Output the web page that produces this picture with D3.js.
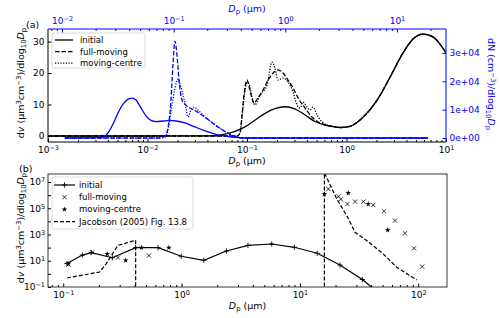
<!DOCTYPE html>
<html>
<head>
<meta charset="utf-8">
<title>Size distributions</title>
<script src="https://d3js.org/d3.v7.min.js"></script>
<style>
  body { margin: 0; background: #fff; }
  svg { font-family: "DejaVu Sans", sans-serif; }
</style>
</head>
<body>
<script>
// ---- panel (a): volume distributions (bottom axis, left axis) ----
var vInitD = [0.001, 0.0034, 0.0106, 0.0337, 0.0477, 0.0601, 0.0757, 0.0955, 0.120, 0.152, 0.191, 0.241, 0.303, 0.383, 0.482, 0.608, 0.766, 0.861, 1.08, 1.47, 2.03, 2.74, 3.70, 4.66, 5.87, 7.40, 9.11, 10];
var vInitV = [0, 0, 0, 0.05, 0.15, 0.6, 1.5, 2.9, 5.0, 7.2, 8.7, 9.3, 8.6, 6.7, 4.6, 3.5, 2.9, 2.7, 3.1, 6.0, 11.4, 18.7, 26.4, 30.8, 32.4, 31.5, 28.3, 26.4];

var vFullD = [0.001, 0.08, 0.0851, 0.0891, 0.0933, 0.100, 0.105, 0.112, 0.117, 0.129, 0.145, 0.163, 0.183, 0.205, 0.230, 0.258, 0.290, 0.326, 0.383, 0.450, 0.517, 0.608, 0.683, 0.766, 0.861, 1.08, 1.47, 2.03, 2.74, 3.70, 4.66, 5.87, 7.40, 9.11, 10];
var vFullV = [0, 0, 1.0, 6.7, 13.0, 17.8, 15.6, 12.1, 10.5, 12.1, 14.6, 17.8, 20.0, 21.0, 20.0, 17.8, 15.3, 12.1, 8.9, 6.0, 4.5, 3.5, 3.2, 2.9, 2.7, 3.1, 6.0, 11.4, 18.7, 26.4, 30.8, 32.4, 31.5, 28.3, 26.4];

var vCentreD = [0.001, 0.08, 0.0851, 0.0891, 0.0933, 0.100, 0.105, 0.112, 0.120, 0.135, 0.159, 0.178, 0.191, 0.205, 0.230, 0.258, 0.290, 0.318, 0.341, 0.366, 0.401, 0.430, 0.460, 0.506, 0.568, 0.683, 0.766, 0.861, 1.08, 1.47, 2.03, 2.74, 3.70, 4.66, 5.87, 7.40, 9.11, 10];
var vCentreV = [0, 0, 1.0, 6.0, 12.0, 17.0, 16.5, 12.5, 9.9, 13.0, 16.2, 23.5, 21.6, 17.8, 18.4, 17.2, 14.0, 9.9, 8.9, 10.8, 9.2, 8.3, 9.2, 6.7, 4.5, 3.2, 2.9, 2.7, 3.1, 6.0, 11.4, 18.7, 26.4, 30.8, 32.4, 31.5, 28.3, 26.4];

// ---- panel (a): number distributions (top axis, right axis, blue) ----
var nInitD = [0.0106, 0.0145, 0.0198, 0.0233, 0.0258, 0.0286, 0.0317, 0.0359, 0.0398, 0.0424, 0.0460, 0.0510, 0.0565, 0.0626, 0.0695, 0.0802, 0.0927, 0.105, 0.126, 0.155, 0.191, 0.234, 0.288, 0.354, 0.435, 19.0];
var nInitN = [0, 0, 100, 350, 1800, 4900, 8800, 12400, 13900, 14100, 13400, 10600, 7800, 6200, 5800, 6000, 6200, 6000, 5300, 3900, 2500, 1400, 700, 250, 0, 0];

var nFullD = [0.0106, 0.0755, 0.0836, 0.0889, 0.0946, 0.0986, 0.1028, 0.1071, 0.1116, 0.1188, 0.1289, 0.140, 0.1584, 0.1794, 0.2115, 0.2493, 0.2941, 0.3467, 0.409, 19.0];
var nFullN = [0, 0, 700, 3500, 13400, 25800, 34200, 29300, 20500, 13400, 11600, 10600, 9500, 8100, 6000, 3900, 2100, 700, 0, 0];

var nCentreD = [0.0106, 0.0755, 0.0836, 0.0908, 0.0966, 0.1028, 0.1094, 0.1140, 0.1213, 0.1289, 0.1343, 0.1429, 0.1520, 0.1651, 0.1832, 0.2115, 0.2493, 0.2941, 0.3467, 0.409, 19.0];
var nCentreN = [0, 0, 300, 4600, 11600, 17600, 20800, 19100, 15200, 10600, 7400, 9900, 10900, 9900, 8100, 6000, 3900, 2100, 700, 0, 0];

// ---- panel (b) ----
var initD = [0.1075, 0.145, 0.1725, 0.2597, 0.409, 0.632, 0.994, 1.54, 2.39, 3.64, 5.78, 8.98, 14.0, 21.8, 33.7, 52.4];
var initV = [6.1, 27, 42, 17, 100, 100, 22, 10.8, 55, 150, 189, 106, 37, 4.7, 0.37, 0.014];

var fullD = [0.111, 0.176, 0.290, 0.530, 17.4, 21.2, 22.2, 25.2, 29.2, 34.4, 41.7, 51.4, 63.6, 77.3, 92.2, 108];
var fullV = [5.1, 44, 17.4, 24.7, 2.93e6, 8.1e5, 4.8e5, 2.11e5, 3.2e5, 3.2e5, 1.77e5, 5.9e4, 1.15e4, 1230, 89, 3.6];

var centreD = [0.110, 0.2354, 0.337, 0.458, 0.780, 16.1, 25.6, 37.8, 55.2];
var centreV = [5.9, 32.7, 10.8, 100, 100, 1.22e6, 1.45e6, 2.11e5, 2200];

var jacD = [0.1075, 0.203, 0.231, 0.290, 0.409, 0.409, 16.1, 16.1, 20.5, 24.9, 29.2, 36.7, 50.7, 65.8, 97.1];
var jacV = [0.485, 1.39, 6.07, 150, 361, 0, 0, 5e7, 5.07e5, 2.75e4, 1470, 343, 32.7, 3.17, 0.341];

var blue = "#0000ff";
var width = 500, height = 318;
var A = { left: 48, right: 446, top: 29, bottom: 142 };
var B = { left: 48, right: 447, top: 174, bottom: 287 };

var svg = d3.select("body").append("svg").attr("width", width).attr("height", height);

// scales
var xA = d3.scaleLog().domain([1e-3, 1e1]).range([A.left, A.right]);
var xT = d3.scaleLog().domain([0.00749, 27.5]).range([A.left, A.right]);
var yL = d3.scaleLinear().domain([-1.9, 34]).range([A.bottom, A.top]);
var yR = d3.scaleLinear().domain([-1410, 38470]).range([A.bottom, A.top]);
var xB = d3.scaleLog().domain([0.0743, 175]).range([B.left, B.right]);
var yB = d3.scaleLog().domain([0.1, 4.07e7]).range([B.bottom, B.top]);

function decades(scale) {
  var d = scale.domain(), out = [];
  for (var e = Math.ceil(Math.log10(d[0]) - 1e-9); e <= Math.floor(Math.log10(d[1]) + 1e-9); e++) out.push(Math.pow(10, e));
  return out;
}
function minors(scale) {
  var d = scale.domain(), out = [];
  for (var e = Math.floor(Math.log10(d[0])); e <= Math.ceil(Math.log10(d[1])); e++)
    for (var m = 2; m < 10; m++) {
      var v = m * Math.pow(10, e);
      if (v >= d[0] && v <= d[1]) out.push(v);
    }
  return out;
}
function powLabel(text) {
  text.each(function(d) {
    var e = Math.round(Math.log10(d));
    var t = d3.select(this).text("");
    t.append("tspan").text("10");
    t.append("tspan").attr("font-size", "0.72em").attr("baseline-shift", "45%")
      .text(String(e).replace("-", "\u2212"));
  });
}
function sci(d) {
  if (d === 0) return "0e+00";
  var e = Math.floor(Math.log10(d));
  return Math.round(d / Math.pow(10, e)) + "e+" + (e < 10 ? "0" : "") + e;
}
function styleAxis(g, color, size) {
  g.select(".domain").remove();
  g.selectAll("line").attr("stroke", color);
  g.selectAll("text").attr("fill", color).attr("font-size", size || 9).attr("font-family", "DejaVu Sans");
  g.attr("font-family", null).attr("font-size", null);
}
// "D_p (µm)" style labels
function dpLabel(sel) {
  sel.append("tspan").attr("font-style", "italic").text("D");
  sel.append("tspan").attr("font-size", "0.72em").attr("baseline-shift", "-22%").text("p");
  sel.append("tspan").text(" (\u00b5m)");
}
function dvLabel(sel) {
  sel.append("tspan").text("d");
  sel.append("tspan").attr("font-style", "italic").text("v");
  sel.append("tspan").text(" (\u00b5m");
  sel.append("tspan").attr("font-size", "0.72em").attr("baseline-shift", "40%").text("3");
  sel.append("tspan").text("cm");
  sel.append("tspan").attr("font-size", "0.72em").attr("baseline-shift", "40%").text("\u22123");
  sel.append("tspan").text(")/dlog");
  sel.append("tspan").attr("font-size", "0.72em").attr("baseline-shift", "-22%").text("10");
  sel.append("tspan").attr("font-style", "italic").text("D");
  sel.append("tspan").attr("font-size", "0.72em").attr("baseline-shift", "-22%").text("p");
}

// clip paths
var defs = svg.append("defs");
defs.append("clipPath").attr("id", "clipA").append("rect")
  .attr("x", A.left).attr("y", A.top).attr("width", A.right - A.left).attr("height", A.bottom - A.top);
defs.append("clipPath").attr("id", "clipB").append("rect")
  .attr("x", B.left).attr("y", B.top).attr("width", B.right - B.left).attr("height", B.bottom - B.top);

// ================= panel (a) =================
var lineV = d3.line().x(function(d) { return xA(d[0]); }).y(function(d) { return yL(d[1]); }).curve(d3.curveMonotoneX);
var lineN = d3.line().x(function(d) { return xT(d[0]); }).y(function(d) { return yR(d[1]); }).curve(d3.curveMonotoneX);

var styles = [
  { name: "initial", dash: null },
  { name: "full-moving", dash: "4.5,2" },
  { name: "moving-centre", dash: "1.2,1.5" }
];

var plotA = svg.append("g").attr("clip-path", "url(#clipA)");
[[vInitD, vInitV], [vFullD, vFullV], [vCentreD, vCentreV]].forEach(function(s, i) {
  plotA.append("path").datum(d3.zip(s[0], s[1]))
    .attr("fill", "none").attr("stroke", "black").attr("stroke-width", 1.3)
    .attr("stroke-dasharray", styles[i].dash).attr("d", lineV);
});

// legend (a)
var legA = svg.append("g");
legA.append("rect").attr("x", 52).attr("y", 33).attr("width", 93).attr("height", 35).attr("rx", 2)
  .attr("fill", "white").attr("fill-opacity", 0.85).attr("stroke", "#d0d0d0").attr("stroke-width", 0.8);
styles.forEach(function(s, i) {
  var y = 40 + i * 11.6;
  legA.append("line").attr("x1", 55).attr("x2", 73).attr("y1", y).attr("y2", y)
    .attr("stroke", "black").attr("stroke-width", 1.3).attr("stroke-dasharray", s.dash);
  legA.append("text").attr("x", 80).attr("y", y + 3).attr("font-size", 8.5).text(s.name);
});

[[nInitD, nInitN], [nFullD, nFullN], [nCentreD, nCentreN]].forEach(function(s, i) {
  plotA.append("path").datum(d3.zip(s[0], s[1]))
    .attr("fill", "none").attr("stroke", blue).attr("stroke-width", 1.3)
    .attr("stroke-dasharray", styles[i].dash).attr("d", lineN);
});

// axes (a)
var axB = svg.append("g").attr("transform", "translate(0," + A.bottom + ")");
axB.call(d3.axisBottom(xA).tickValues(decades(xA)).tickSizeInner(-3.5).tickSizeOuter(0).tickPadding(5).tickFormat(""));
styleAxis(axB, "black");
axB.selectAll(".tick text").call(powLabel);
var axBm = svg.append("g").attr("transform", "translate(0," + A.bottom + ")");
axBm.call(d3.axisBottom(xA).tickValues(minors(xA)).tickSizeInner(-2).tickSizeOuter(0).tickFormat(""));
styleAxis(axBm, "black");

var axT = svg.append("g").attr("transform", "translate(0," + A.top + ")");
axT.call(d3.axisTop(xT).tickValues(decades(xT)).tickSizeInner(-3.5).tickSizeOuter(0).tickPadding(5).tickFormat(""));
styleAxis(axT, blue);
axT.selectAll(".tick text").call(powLabel);
var axTm = svg.append("g").attr("transform", "translate(0," + A.top + ")");
axTm.call(d3.axisTop(xT).tickValues(minors(xT)).tickSizeInner(-2).tickSizeOuter(0).tickFormat(""));
styleAxis(axTm, blue);

var axL = svg.append("g").attr("transform", "translate(" + A.left + ",0)");
axL.call(d3.axisLeft(yL).tickValues([0, 10, 20, 30]).tickSizeInner(-3.5).tickSizeOuter(0).tickPadding(3.5));
styleAxis(axL, "black");

var axR = svg.append("g").attr("transform", "translate(" + A.right + ",0)");
axR.call(d3.axisRight(yR).tickValues([0, 1e4, 2e4, 3e4]).tickSizeInner(-3.5).tickSizeOuter(0).tickPadding(3.5).tickFormat(sci));
styleAxis(axR, blue);

// spines (a)
svg.append("line").attr("x1", A.left).attr("x2", A.left).attr("y1", A.top).attr("y2", A.bottom).attr("stroke", "black");
svg.append("line").attr("x1", A.left).attr("x2", A.right).attr("y1", A.bottom).attr("y2", A.bottom).attr("stroke", "black");
svg.append("line").attr("x1", A.left).attr("x2", A.right).attr("y1", A.top).attr("y2", A.top).attr("stroke", blue);
svg.append("line").attr("x1", A.right).attr("x2", A.right).attr("y1", A.top).attr("y2", A.bottom).attr("stroke", blue);

// labels (a)
svg.append("text").attr("x", (A.left + A.right) / 2).attr("y", 164).attr("text-anchor", "middle").attr("font-size", 9.5).call(dpLabel);
svg.append("text").attr("x", (A.left + A.right) / 2).attr("y", 12).attr("text-anchor", "middle").attr("font-size", 9.5).attr("fill", blue).call(dpLabel);
svg.append("text").attr("transform", "translate(24,83) rotate(-90)").attr("text-anchor", "middle").attr("font-size", 9.5).call(dvLabel);
var rl = svg.append("text").attr("transform", "translate(488,84) rotate(90)").attr("text-anchor", "middle").attr("font-size", 9.5).attr("fill", blue);
rl.append("tspan").text("dN (cm");
rl.append("tspan").attr("font-size", "0.72em").attr("baseline-shift", "40%").text("\u22123");
rl.append("tspan").text(")/dlog");
rl.append("tspan").attr("font-size", "0.72em").attr("baseline-shift", "-22%").text("10");
rl.append("tspan").attr("font-style", "italic").text("D");
rl.append("tspan").attr("font-size", "0.72em").attr("baseline-shift", "-22%").text("p");
svg.append("text").attr("x", 26).attr("y", 28).attr("font-size", 9.5).text("(a)");

// ================= panel (b) =================
var yBv = function(v) { return v > 0 ? yB(v) : B.bottom + 80; };
var lineB = d3.line().x(function(d) { return xB(d[0]); }).y(function(d) { return yBv(d[1]); });

var plotB = svg.append("g").attr("clip-path", "url(#clipB)");
plotB.append("path").datum(d3.zip(initD, initV))
  .attr("fill", "none").attr("stroke", "black").attr("stroke-width", 1.2).attr("d", lineB);
plotB.append("path").datum(d3.zip(jacD, jacV))
  .attr("fill", "none").attr("stroke", "black").attr("stroke-width", 1.2).attr("stroke-dasharray", "4,2").attr("d", lineB);

var plusPath = "M-2.6,0H2.6M0,-2.6V2.6";
var crossPath = "M-2.1,-2.1L2.1,2.1M-2.1,2.1L2.1,-2.1";
var star = d3.symbol().type(d3.symbolStar).size(10);

plotB.selectAll(".pl").data(d3.zip(initD, initV)).enter().append("path")
  .attr("transform", function(d) { return "translate(" + xB(d[0]) + "," + yB(d[1]) + ")"; })
  .attr("d", plusPath).attr("stroke", "black").attr("stroke-width", 0.9);
plotB.selectAll(".cr").data(d3.zip(fullD, fullV)).enter().append("path")
  .attr("transform", function(d) { return "translate(" + xB(d[0]) + "," + yB(d[1]) + ")"; })
  .attr("d", crossPath).attr("stroke", "black").attr("stroke-width", 0.8);
plotB.selectAll(".st").data(d3.zip(centreD, centreV)).enter().append("path")
  .attr("transform", function(d) { return "translate(" + xB(d[0]) + "," + yB(d[1]) + ")"; })
  .attr("d", star).attr("fill", "black");

// axes (b)
var bxB = svg.append("g").attr("transform", "translate(0," + B.bottom + ")");
bxB.call(d3.axisBottom(xB).tickValues(decades(xB)).tickSizeInner(-3.5).tickSizeOuter(0).tickPadding(5).tickFormat(""));
styleAxis(bxB, "black");
bxB.selectAll(".tick text").call(powLabel);
var bxBm = svg.append("g").attr("transform", "translate(0," + B.bottom + ")");
bxBm.call(d3.axisBottom(xB).tickValues(minors(xB)).tickSizeInner(-2).tickSizeOuter(0).tickFormat(""));
styleAxis(bxBm, "black");

var byL = svg.append("g").attr("transform", "translate(" + B.left + ",0)");
byL.call(d3.axisLeft(yB).tickValues(decades(yB)).tickSizeInner(-3).tickSizeOuter(0).tickPadding(3).tickFormat(""));
styleAxis(byL, "black");
byL.selectAll(".tick text").filter(function(d) { return Math.round(Math.log10(d)) % 2 !== 0; }).call(powLabel);

svg.append("rect").attr("x", B.left).attr("y", B.top).attr("width", B.right - B.left).attr("height", B.bottom - B.top)
  .attr("fill", "none").attr("stroke", "#222").attr("stroke-width", 0.9);

// legend (b)
var legB = svg.append("g");
legB.append("rect").attr("x", 52).attr("y", 177).attr("width", 141).attr("height", 52).attr("rx", 2)
  .attr("fill", "white").attr("fill-opacity", 0.85).attr("stroke", "#d0d0d0").attr("stroke-width", 0.8);
var legNames = ["initial", "full-moving", "moving-centre", "Jacobson (2005) Fig. 13.8"];
legNames.forEach(function(name, i) {
  var y = 185 + i * 12.2;
  var cx = 64.5;
  if (i === 0) {
    legB.append("line").attr("x1", 54).attr("x2", 75).attr("y1", y).attr("y2", y).attr("stroke", "black").attr("stroke-width", 1.2);
    legB.append("path").attr("transform", "translate(" + cx + "," + y + ")").attr("d", plusPath).attr("stroke", "black").attr("stroke-width", 0.9);
  } else if (i === 1) {
    legB.append("path").attr("transform", "translate(" + cx + "," + y + ")").attr("d", crossPath).attr("stroke", "black").attr("stroke-width", 0.8);
  } else if (i === 2) {
    legB.append("path").attr("transform", "translate(" + cx + "," + y + ")").attr("d", star).attr("fill", "black");
  } else {
    legB.append("line").attr("x1", 54).attr("x2", 75).attr("y1", y).attr("y2", y).attr("stroke", "black").attr("stroke-width", 1.2).attr("stroke-dasharray", "4,2");
  }
  legB.append("text").attr("x", 79).attr("y", y + 3).attr("font-size", 8.5).text(name);
});

// labels (b)
svg.append("text").attr("x", (B.left + B.right) / 2).attr("y", 309).attr("text-anchor", "middle").attr("font-size", 9.5).call(dpLabel);
svg.append("text").attr("transform", "translate(24,228) rotate(-90)").attr("text-anchor", "middle").attr("font-size", 9.5).call(dvLabel);
svg.append("text").attr("x", 19).attr("y", 172).attr("font-size", 9.5).text("(b)");
</script>
</body>
</html>
